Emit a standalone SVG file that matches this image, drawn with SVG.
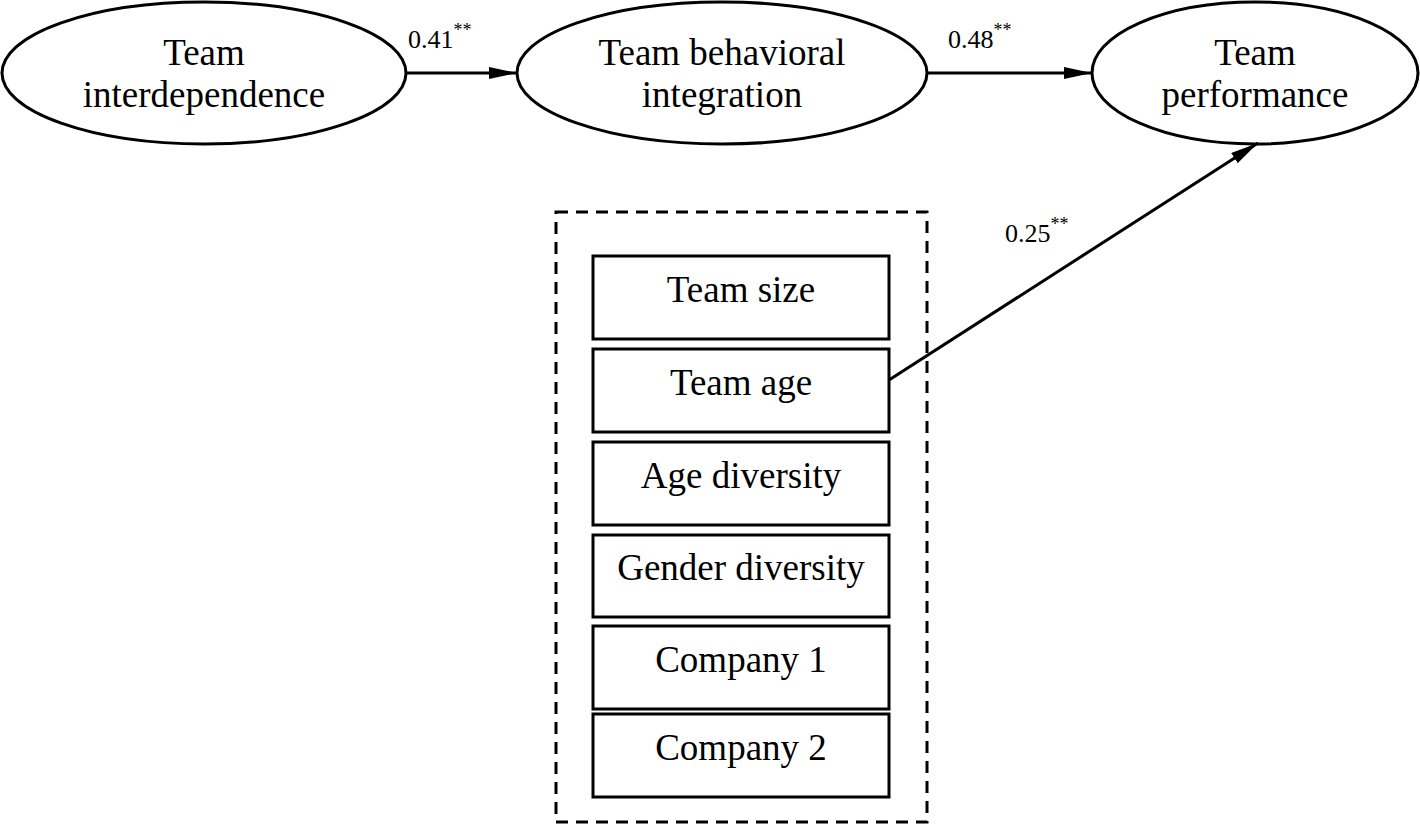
<svg xmlns="http://www.w3.org/2000/svg" width="1420" height="825" viewBox="0 0 1420 825">
<style>
.n{fill:#fff;stroke:#000;stroke-width:3}
.t{font-family:"Liberation Serif","Times New Roman",serif;font-size:37px;text-anchor:middle;fill:#000}
.l{font-family:"Liberation Serif","Times New Roman",serif;font-size:26px;fill:#000}
.s{font-size:18px}
.c{stroke:#000;stroke-width:3;fill:none}
</style>
<defs>
<marker id="a" viewBox="0 0 28 12" refX="28" refY="6" markerWidth="28" markerHeight="12" markerUnits="userSpaceOnUse" orient="auto"><path d="M0,0 L28,6 L0,12 Z" fill="#000"/></marker>
</defs>
<rect x="556" y="212" width="371" height="610" fill="none" stroke="#000" stroke-width="3" stroke-dasharray="12,8"/>
<g id="n1"><ellipse class="n" cx="204" cy="73" rx="202" ry="71"/><text class="t" x="204" y="65">Team</text><text class="t" x="204" y="107">interdependence</text></g>
<g id="n2"><ellipse class="n" cx="722" cy="73" rx="205" ry="71"/><text class="t" x="722" y="65">Team behavioral</text><text class="t" x="722" y="107">integration</text></g>
<g id="n3"><ellipse class="n" cx="1255" cy="73" rx="163" ry="71"/><text class="t" x="1255" y="65">Team</text><text class="t" x="1255" y="107">performance</text></g>
<g id="b1"><rect class="n" x="593" y="256" width="296" height="83"/><text class="t" x="741" y="302">Team size</text></g>
<g id="b2"><rect class="n" x="593" y="349" width="296" height="83"/><text class="t" x="741" y="395">Team age</text></g>
<g id="b3"><rect class="n" x="593" y="442" width="296" height="83"/><text class="t" x="741" y="488">Age diversity</text></g>
<g id="b4"><rect class="n" x="593" y="535" width="296" height="82"/><text class="t" x="741" y="580">Gender diversity</text></g>
<g id="b5"><rect class="n" x="593" y="626" width="296" height="83"/><text class="t" x="741" y="672">Company 1</text></g>
<g id="b6"><rect class="n" x="593" y="714" width="296" height="83"/><text class="t" x="741" y="760">Company 2</text></g>
<g id="edges">
<line class="c" x1="406" y1="73" x2="517" y2="73" marker-end="url(#a)"/>
<line class="c" x1="927" y1="73" x2="1092" y2="73" marker-end="url(#a)"/>
<line class="c" x1="889" y1="380" x2="1258" y2="143" marker-end="url(#a)"/>
<text class="l" x="408" y="48">0.41<tspan class="s" dy="-12">**</tspan></text>
<text class="l" x="948" y="48">0.48<tspan class="s" dy="-12">**</tspan></text>
<text class="l" x="1005" y="242">0.25<tspan class="s" dy="-12">**</tspan></text>
</g>
</svg>
